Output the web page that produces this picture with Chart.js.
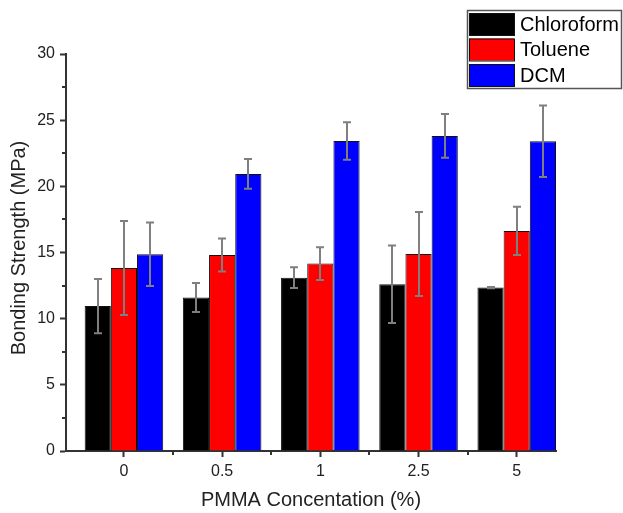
<!DOCTYPE html>
<html>
<head>
<meta charset="utf-8">
<script src="https://cdn.jsdelivr.net/npm/chart.js@4"></script>
<style>
  html, body { margin: 0; padding: 0; background: #fff; }
  canvas { display: block; }
</style>
</head>
<body>
<canvas id="chart" width="623" height="513"></canvas>
<script>
// PMMA concentration groups
const categories = ['0', '0.5', '1', '2.5', '5'];

// bonding strength (MPa) and error bars
const chloroform    = [10.95, 11.6, 13.1, 12.6, 12.35];
const chloroformErr = [2.05, 1.1, 0.78, 2.92, 0.05];
const toluene       = [13.83, 14.81, 14.16, 14.89, 16.63];
const tolueneErr    = [3.55, 1.25, 1.24, 3.17, 1.82];
const dcm           = [14.87, 20.94, 23.43, 23.81, 23.4];
const dcmErr        = [2.4, 1.12, 1.42, 1.65, 2.7];

const yTicks = [0, 5, 10, 15, 20, 25, 30];
const yMinor = [2.5, 7.5, 12.5, 17.5, 22.5, 27.5];
const xMinor = [0.5, 1.5, 2.5, 3.5];

const FONT = "'Liberation Sans', Arial, sans-serif";
const AXIS = '#333';

function toPoints(vals) {
  return vals.map((v, i) => ({ x: i, y: v }));
}

// error bars drawn from each bar's own x and the y scale
const errorBars = {
  id: 'errorBars',
  afterDatasetsDraw(chart) {
    const ctx = chart.ctx;
    const ys = chart.scales.y;
    ctx.save();
    ctx.strokeStyle = '#7f7f7f';
    ctx.lineWidth = 2;
    chart.data.datasets.forEach((ds, di) => {
      const meta = chart.getDatasetMeta(di);
      meta.data.forEach((bar, i) => {
        const v = ds.data[i].y, e = ds.errors[i];
        const top = ys.getPixelForValue(v + e);
        const bot = ys.getPixelForValue(v - e);
        const x = Math.round(bar.x);
        ctx.beginPath();
        ctx.moveTo(x, top); ctx.lineTo(x, bot);
        ctx.moveTo(x - 4, top); ctx.lineTo(x + 4, top);
        ctx.moveTo(x - 4, bot); ctx.lineTo(x + 4, bot);
        ctx.stroke();
      });
    });
    ctx.restore();
  }
};

// minor ticks on both axes, plus the y title (a little above the axis middle)
const minorTicks = {
  id: 'minorTicks',
  afterDraw(chart) {
    const ctx = chart.ctx;
    const { x: xs, y: ys } = chart.scales;
    const a = chart.chartArea;
    ctx.save();
    ctx.strokeStyle = AXIS;
    ctx.lineWidth = 2;
    ctx.beginPath();
    yMinor.forEach(v => {
      const py = Math.round(ys.getPixelForValue(v));
      ctx.moveTo(a.left, py); ctx.lineTo(a.left - 4, py);
    });
    xMinor.forEach(v => {
      const px = Math.round(xs.getPixelForValue(v));
      ctx.moveTo(px, a.bottom); ctx.lineTo(px, a.bottom + 4);
    });
    ctx.stroke();

    ctx.translate(19, 248);
    ctx.rotate(-Math.PI / 2);
    ctx.font = '20px ' + FONT;
    ctx.fillStyle = '#222';
    ctx.textAlign = 'center';
    ctx.textBaseline = 'middle';
    ctx.fillText('Bonding Strength (MPa)', 0, 0);
    ctx.restore();
  }
};

// boxed legend in the top right corner
const boxLegend = {
  id: 'boxLegend',
  afterDraw(chart) {
    const ctx = chart.ctx;
    ctx.save();
    ctx.strokeStyle = '#555';
    ctx.lineWidth = 1.5;
    ctx.strokeRect(467.5, 10.5, 154, 78);
    ctx.font = '20px ' + FONT;
    ctx.textBaseline = 'middle';
    ctx.textAlign = 'left';
    chart.data.datasets.forEach((ds, i) => {
      const y = 13 + i * 25.5;
      ctx.fillStyle = ds.backgroundColor;
      ctx.fillRect(469, y, 45, 22);
      ctx.strokeStyle = '#111';
      ctx.lineWidth = 1;
      ctx.strokeRect(469.5, y + 0.5, 45, 22);
      ctx.fillStyle = '#000';
      ctx.fillText(ds.label, 520, y + 12);
    });
    ctx.restore();
  }
};

new Chart(document.getElementById('chart'), {
  type: 'bar',
  data: {
    datasets: [
      { label: 'Chloroform', data: toPoints(chloroform), errors: chloroformErr, backgroundColor: '#000000' },
      { label: 'Toluene',    data: toPoints(toluene),    errors: tolueneErr,    backgroundColor: '#ff0000' },
      { label: 'DCM',        data: toPoints(dcm),        errors: dcmErr,        backgroundColor: '#0000ff' }
    ].map(d => Object.assign(d, { borderColor: '#111', borderWidth: 1, categoryPercentage: 0.8, barPercentage: 1.0 }))
  },
  options: {
    responsive: false,
    animation: false,
    layout: { padding: { left: 0, top: 54, right: 67, bottom: 0 } },
    plugins: { legend: { display: false }, tooltip: { enabled: false } },
    scales: {
      x: {
        type: 'linear',
        min: -0.59,
        max: 4.4,
        offset: false,
        afterBuildTicks: s => { s.ticks = categories.map((c, i) => ({ value: i })); },
        afterFit: s => { s.height = 62; },
        ticks: {
          callback: v => categories[Math.round(v)],
          font: { family: FONT, size: 16 },
          color: '#222',
          padding: 5,
          maxRotation: 0
        },
        grid: { display: true, drawOnChartArea: false, offset: false, tickLength: 6, tickColor: AXIS, tickWidth: 2 },
        border: { display: true, color: AXIS, width: 2 },
        title: { display: true, text: 'PMMA Concentation (%)', font: { family: FONT, size: 20 }, color: '#222', padding: { top: 0, bottom: 1 } }
      },
      y: {
        min: 0,
        max: 30,
        afterBuildTicks: s => { s.ticks = yTicks.map(v => ({ value: v })); },
        afterFit: s => { s.width = 66; },
        ticks: { font: { family: FONT, size: 16 }, color: '#222', padding: 5 },
        grid: { display: true, drawOnChartArea: false, tickLength: 6, tickColor: AXIS, tickWidth: 2 },
        border: { display: true, color: AXIS, width: 2 }
      }
    }
  },
  plugins: [errorBars, minorTicks, boxLegend]
});
</script>
</body>
</html>
